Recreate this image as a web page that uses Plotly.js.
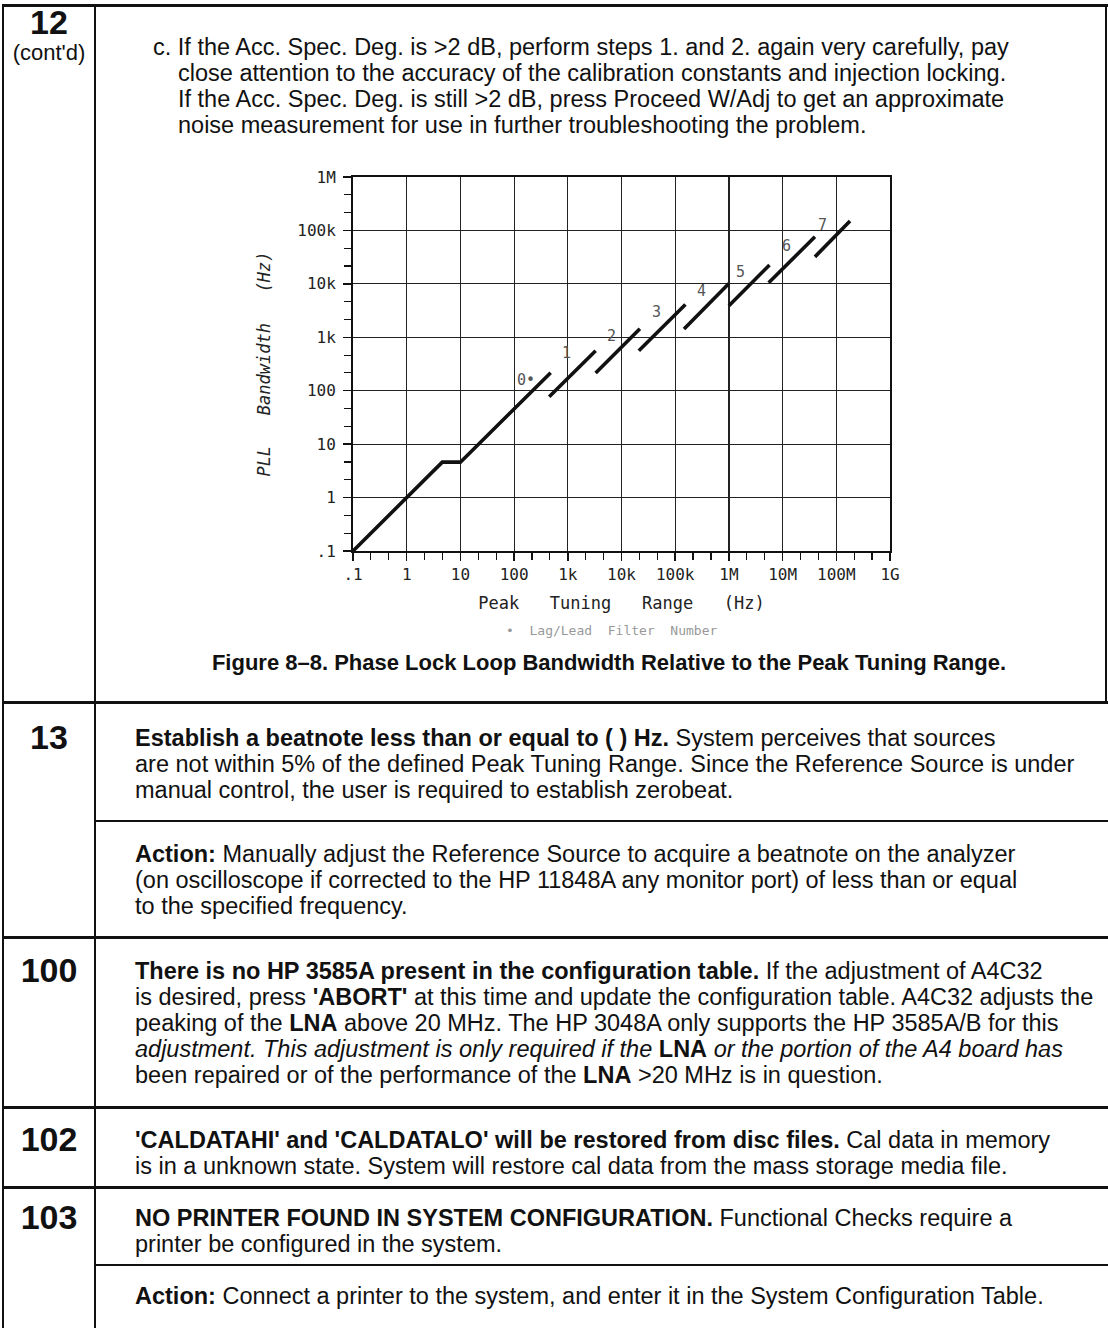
<!DOCTYPE html>
<html><head><meta charset="utf-8">
<script src="https://cdn.plot.ly/plotly-3.0.1.min.js"></script>
<style>
html,body{margin:0;padding:0;background:#fff;}
body{width:1108px;height:1328px;position:relative;overflow:hidden;font-family:"Liberation Sans",Arial,Helvetica,sans-serif;color:#111;}
.h{position:absolute;background:#111;}
.t{position:absolute;font-size:23.5px;line-height:26px;white-space:nowrap;}
.num{position:absolute;left:3px;width:92px;text-align:center;font-weight:bold;font-size:34px;line-height:30px;}
.cont{position:absolute;left:3px;width:92px;text-align:center;font-size:22px;line-height:22px;}
.cap{position:absolute;left:95px;width:1028px;text-align:center;font-weight:bold;font-size:22px;line-height:26px;}
#plot{position:absolute;left:100px;top:140px;width:900px;height:560px;}
</style></head><body>
<!-- table rules -->
<div class="h" style="left:2px;top:4px;width:1106px;height:3px"></div>
<div class="h" style="left:2px;top:4px;width:2px;height:1324px"></div>
<div class="h" style="left:94px;top:4px;width:2px;height:1324px"></div>
<div class="h" style="left:1105px;top:4px;width:2px;height:700px"></div>
<div class="h" style="left:2px;top:701px;width:1106px;height:3px"></div>
<div class="h" style="left:94px;top:820px;width:1014px;height:2px"></div>
<div class="h" style="left:2px;top:936px;width:1106px;height:3px"></div>
<div class="h" style="left:2px;top:1106px;width:1106px;height:3px"></div>
<div class="h" style="left:2px;top:1186px;width:1106px;height:3px"></div>
<div class="h" style="left:94px;top:1264px;width:1014px;height:2px"></div>

<!-- row 12 -->
<div class="num" style="top:7px">12</div>
<div class="cont" style="top:42px">(cont'd)</div>
<div class="t" style="left:178px;top:34px;text-indent:-25px">c. If the Acc. Spec. Deg. is &gt;2 dB, perform steps 1. and 2. again very carefully, pay<br>close attention to the accuracy of the calibration constants and injection locking.<br>If the Acc. Spec. Deg. is still &gt;2 dB, press Proceed W/Adj to get an approximate<br>noise measurement for use in further troubleshooting the problem.</div>
<div id="plot"></div>
<div class="cap" style="top:650px">Figure 8–8. Phase Lock Loop Bandwidth Relative to the Peak Tuning Range.</div>

<!-- row 13 -->
<div class="num" style="top:722px">13</div>
<div class="t" style="left:135px;top:725px"><b>Establish a beatnote less than or equal to ( ) Hz.</b> System perceives that sources<br>are not within 5% of the defined Peak Tuning Range. Since the Reference Source is under<br>manual control, the user is required to establish zerobeat.</div>
<div class="t" style="left:135px;top:841px"><b>Action:</b> Manually adjust the Reference Source to acquire a beatnote on the analyzer<br>(on oscilloscope if corrected to the HP 11848A any monitor port) of less than or equal<br>to the specified frequency.</div>

<!-- row 100 -->
<div class="num" style="top:955px">100</div>
<div class="t" style="left:135px;top:958px"><b>There is no HP 3585A present in the configuration table.</b> If the adjustment of A4C32<br>is desired, press <b>'ABORT'</b> at this time and update the configuration table. A4C32 adjusts the<br>peaking of the <b>LNA</b> above 20 MHz. The HP 3048A only supports the HP 3585A/B for this<br><i>adjustment. This adjustment is only required if the</i> <b>LNA</b> <i>or the portion of the A4 board has</i><br>been repaired or of the performance of the <b>LNA</b> &gt;20 MHz is in question.</div>

<!-- row 102 -->
<div class="num" style="top:1124px">102</div>
<div class="t" style="left:135px;top:1127px"><b>'CALDATAHI' and 'CALDATALO' will be restored from disc files.</b> Cal data in memory<br>is in a unknown state. System will restore cal data from the mass storage media file.</div>

<!-- row 103 -->
<div class="num" style="top:1202px">103</div>
<div class="t" style="left:135px;top:1205px"><b>NO PRINTER FOUND IN SYSTEM CONFIGURATION.</b> Functional Checks require a<br>printer be configured in the system.</div>
<div class="t" style="left:135px;top:1283px"><b>Action:</b> Connect a printer to the system, and enter it in the System Configuration Table.</div>

<script>
// ---- data ----
const filter0X = [0.1, 4.6, 10, 480];
const filter0Y = [0.1, 4.6, 4.6, 216];
const filter1X = [450, 3300];
const filter1Y = [77, 560];
const filter2X = [3300, 22000];
const filter2Y = [215, 1450];
const filter3X = [21000, 155000];
const filter3Y = [560, 4100];
const filter4X = [146000, 1.0e6];
const filter4Y = [1430, 10200];
const filter5X = [1.0e6, 5.7e6];
const filter5Y = [3900, 22500];
const filter6X = [5.5e6, 4.0e7];
const filter6Y = [10500, 76000];
const filter7X = [4.0e7, 1.8e8];
const filter7Y = [32000, 150000];

const labelText = ["0\u2022", "1", "2", "3", "4", "5", "6", "7"];
const labelX = [165, 944, 6600, 44700, 309000, 1.65e6, 1.18e7, 5.6e7];
const labelY = [157, 513, 1074, 2940, 7500, 16500, 52000, 124000];

const xTickVals = [0.1, 1, 10, 100, 1e3, 1e4, 1e5, 1e6, 1e7, 1e8, 1e9];
const xTickText = [".1", "1", "10", "100", "1k", "10k", "100k", "1M", "10M", "100M", "1G"];
const yTickVals = [0.1, 1, 10, 100, 1e3, 1e4, 1e5, 1e6];
const yTickText = [".1", "1", "10", "100", "1k", "10k", "100k", "1M"];

// minor ticks every third of a decade
function thirds(lo, hi) {
  const v = [];
  for (let k = lo * 3; k <= hi * 3; k++) { if (k % 3 !== 0) v.push(Math.pow(10, k / 3)); }
  return v;
}

const segs = [[filter0X, filter0Y], [filter1X, filter1Y], [filter2X, filter2Y], [filter3X, filter3Y],
              [filter4X, filter4Y], [filter5X, filter5Y], [filter6X, filter6Y], [filter7X, filter7Y]];
const traces = segs.map((s, i) => ({
  x: s[0], y: s[1], type: 'scatter', mode: 'lines', name: 'Filter ' + i,
  line: {color: '#111', width: 3.6}, hoverinfo: 'skip'
}));

const mono = 'DejaVu Sans Mono, monospace';
const annotations = labelText.map((t, i) => ({
  x: Math.log10(labelX[i]), y: Math.log10(labelY[i]), xref: 'x', yref: 'y', text: t,
  showarrow: false, font: {family: mono, size: 15, color: '#555'}
}));
annotations.push({
  xref: 'paper', yref: 'paper', x: 0.5, y: 0, yanchor: 'middle', xshift: -10, yshift: -79,
  text: '\u2022\u00a0\u00a0Lag/Lead\u00a0\u00a0Filter\u00a0\u00a0Number', showarrow: false,
  font: {family: mono, size: 13, color: '#999'}
});

function axis(range, vals, text, minorVals, title, standoff, italic) {
  return {
    type: 'log', range: range, tickmode: 'array', tickvals: vals, ticktext: text,
    showgrid: true, gridcolor: '#222', gridwidth: 1.2, zeroline: false,
    showline: true, mirror: true, linecolor: '#111', linewidth: 2,
    ticks: 'outside', ticklen: 8, tickwidth: 1.5, tickcolor: '#111',
    minor: {tickmode: 'array', tickvals: minorVals, ticks: 'outside', ticklen: 7, tickwidth: 1.2, tickcolor: '#111', showgrid: false},
    tickfont: {family: mono, size: 16, color: '#222'},
    title: {text: title, font: {family: mono, size: 17, color: '#222', style: italic ? 'italic' : 'normal'}, standoff: standoff},
    automargin: false, fixedrange: true
  };
}

const layout = {
  width: 900, height: 560,
  margin: {l: 253, r: 110, t: 37, b: 149},
  paper_bgcolor: 'rgba(0,0,0,0)', plot_bgcolor: '#fff',
  showlegend: false,
  xaxis: axis([-1, 9], xTickVals, xTickText, thirds(-1, 9),
    'Peak\u00a0\u00a0\u00a0Tuning\u00a0\u00a0\u00a0Range\u00a0\u00a0\u00a0(Hz)', 14, false),
  yaxis: axis([-1, 6], yTickVals, yTickText, thirds(-1, 6),
    'PLL\u00a0\u00a0\u00a0Bandwidth\u00a0\u00a0\u00a0(Hz)', 22, true),
  annotations: annotations
};
layout.yaxis.ticklabelstandoff = 4;

Plotly.newPlot('plot', traces, layout, {staticPlot: true, displayModeBar: false});
</script>
</body></html>
